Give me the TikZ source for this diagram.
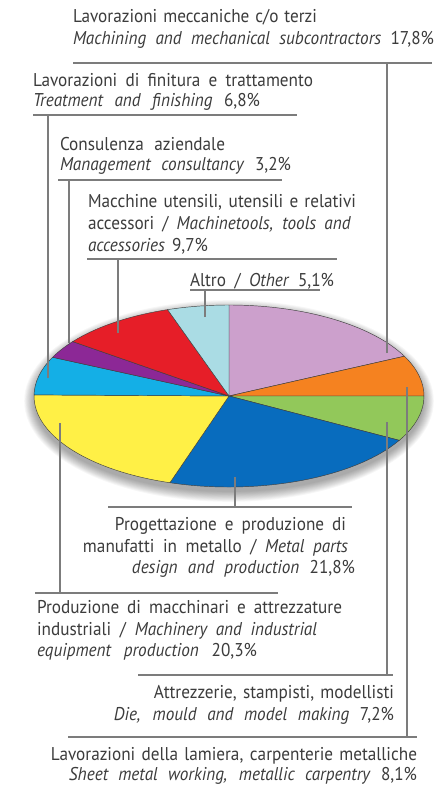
\documentclass[tikz,border=0pt]{standalone}
\usepackage{fontspec}
\setmainfont{PT Sans}[FakeStretch=0.93]
\definecolor{textgray}{HTML}{3C3C3C}
\definecolor{linegray}{HTML}{7C7C7C}
\definecolor{cLilac}{HTML}{CCA0CC}
\definecolor{cOrange}{HTML}{F58220}
\definecolor{cGreen}{HTML}{92C85A}
\definecolor{cBlue}{HTML}{086CBE}
\definecolor{cYellow}{HTML}{FFF046}
\definecolor{cCyan}{HTML}{14AFE6}
\definecolor{cPurple}{HTML}{8C2896}
\definecolor{cRed}{HTML}{E61E28}
\definecolor{cLight}{HTML}{AADCE4}
\newcommand{\lblfont}{\fontsize{18.5bp}{22bp}\selectfont}
\newcommand{\wbox}[2]{\makebox[#1bp][s]{#2}}
\tikzset{
  lbl/.style={inner sep=0pt, outer sep=0pt, font=\lblfont, text=textgray},
  lw/.style={lbl, anchor=base west},
  le/.style={lbl, anchor=base east},
  leader/.style={draw=linegray, line width=1.1bp},
  slice/.style={draw=black!75, line width=0.45bp},
}
\begin{document}
\begin{tikzpicture}[x=1bp, y=-1bp]
\useasboundingbox (0,0) rectangle (445,787);
\fill[white] (0,0) rectangle (445,787);
% shadow
\foreach \i in {1,...,12}
  \fill[black, opacity=0.03] (229,401) ellipse [x radius={194+\i*0.9}, y radius={90+\i*0.9}];
% pie
\begin{scope}[shift={(229,396)}]
  \coordinate (pc) at (0,0);
  \filldraw[slice, fill=cLilac]  (pc) -- (-90:195 and 91) arc[start angle=-90, end angle=-25.92, x radius=195, y radius=91] -- cycle;
  \filldraw[slice, fill=cOrange] (pc) -- (-25.92:195 and 91) arc[start angle=-25.92, end angle=0, x radius=195, y radius=91] -- cycle;
  \filldraw[slice, fill=cGreen]  (pc) -- (0:195 and 91) arc[start angle=0, end angle=29.16, x radius=195, y radius=91] -- cycle;
  \filldraw[slice, fill=cBlue]   (pc) -- (29.16:195 and 91) arc[start angle=29.16, end angle=107.64, x radius=195, y radius=91] -- cycle;
  \filldraw[slice, fill=cYellow] (pc) -- (107.64:195 and 91) arc[start angle=107.64, end angle=180.72, x radius=195, y radius=91] -- cycle;
  \filldraw[slice, fill=cCyan]   (pc) -- (180.72:195 and 91) arc[start angle=180.72, end angle=205.2, x radius=195, y radius=91] -- cycle;
  \filldraw[slice, fill=cPurple] (pc) -- (205.2:195 and 91) arc[start angle=205.2, end angle=216.72, x radius=195, y radius=91] -- cycle;
  \filldraw[slice, fill=cRed]    (pc) -- (216.72:195 and 91) arc[start angle=216.72, end angle=251.64, x radius=195, y radius=91] -- cycle;
  \filldraw[slice, fill=cLight]  (pc) -- (251.64:195 and 91) arc[start angle=251.64, end angle=270, x radius=195, y radius=91] -- cycle;
\end{scope}

% ---- labels ----
% 1 Machining
\node[lw] (l1a) at (73,23) {\wbox{244}{Lavorazioni meccaniche c/o terzi}};
\node[lw] (l1b) at (73,45) {\wbox{361}{\textit{Machining and mechanical subcontractors} 17,8\%}};
\coordinate (r1a) at (73,63); \coordinate (r1b) at (432,63);
\coordinate (r1k) at (387,63); \coordinate (p1) at (387,353);
% 2 Treatment
\node[lw] (l2a) at (33,86) {\wbox{280}{Lavorazioni di finitura e trattamento}};
\node[lw] (l2b) at (33,106) {\wbox{227}{\textit{Treatment and finishing} 6,8\%}};
\coordinate (r2a) at (33,115); \coordinate (r2b) at (297,115);
\coordinate (r2k) at (48,115); \coordinate (p2) at (48,378);
% 3 Consultancy
\node[lw] (l3a) at (60,150) {\wbox{165}{Consulenza aziendale}};
\node[lw] (l3b) at (60,170) {\wbox{231}{\textit{Management consultancy} 3,2\%}};
\coordinate (r3a) at (58,180); \coordinate (r3b) at (282,180);
\coordinate (r3k) at (69,180); \coordinate (p3) at (69,343);
% 4 Machine tools
\node[lw] (l4a) at (88,207) {\wbox{268}{Macchine utensili, utensili e relativi}};
\node[lw] (l4b) at (88,229) {\wbox{263}{accessori / \textit{Machinetools, tools and}}};
\node[lw] (l4c) at (88,251) {\wbox{120}{\textit{accessories} 9,7\%}};
\coordinate (r4a) at (87,259); \coordinate (r4b) at (337,259);
\coordinate (r4k) at (118,259); \coordinate (p4) at (118,333);
% 5 Other
\node[lw] (l5) at (190,286) {\wbox{144}{Altro / \textit{Other} 5,1\%}};
\coordinate (r5a) at (190,290); \coordinate (r5b) at (320,290);
\coordinate (r5k) at (205,290); \coordinate (p5) at (205,317);
% 6 Metal parts
\coordinate (r6a) at (108,507); \coordinate (r6b) at (352,507);
\coordinate (r6k) at (235,507); \coordinate (p6) at (235,477);
\node[le] (l6a) at (346,530) {\wbox{231}{Progettazione e produzione di}};
\node[le] (l6b) at (348,552) {\wbox{265}{manufatti in metallo / \textit{Metal parts}}};
\node[le] (l6c) at (355,573) {\wbox{223}{\textit{design and production} 21,8\%}};
% 7 Machinery
\coordinate (r7a) at (35,593); \coordinate (r7b) at (278,593);
\coordinate (r7k) at (60,593); \coordinate (p7) at (60,423);
\node[lw] (l7a) at (37,613) {\wbox{305}{Produzione di macchinari e attrezzature}};
\node[lw] (l7b) at (37,635) {\wbox{280}{industriali / \textit{Machinery and industrial}}};
\node[lw] (l7c) at (37,656) {\wbox{220}{\textit{equipment production} 20,3\%}};
% 8 Die
\coordinate (r8a) at (138,675); \coordinate (r8b) at (393,675);
\coordinate (r8k) at (387,675); \coordinate (p8) at (387,422);
\node[le] (l8a) at (394,698) {\wbox{240}{Attrezzerie, stampisti, modellisti}};
\node[le] (l8b) at (394,720) {\wbox{280}{\textit{Die, mould and model making} 7,2\%}};
% 9 Sheet metal
\coordinate (r9a) at (68,737); \coordinate (r9b) at (417,737);
\coordinate (r9k) at (407,737); \coordinate (p9) at (407,387);
\node[le] (l9a) at (417,760) {\wbox{366}{Lavorazioni della lamiera, carpenterie metalliche}};
\node[le] (l9b) at (417,780) {\wbox{348}{\textit{Sheet metal working, metallic carpentry} 8,1\%}};

% ---- leaders ----
\foreach \k in {1,...,9} {
  \draw[leader] (r\k a) -- (r\k b);
  \draw[leader] (p\k) -- (r\k k);
}
\end{tikzpicture}
\end{document}
